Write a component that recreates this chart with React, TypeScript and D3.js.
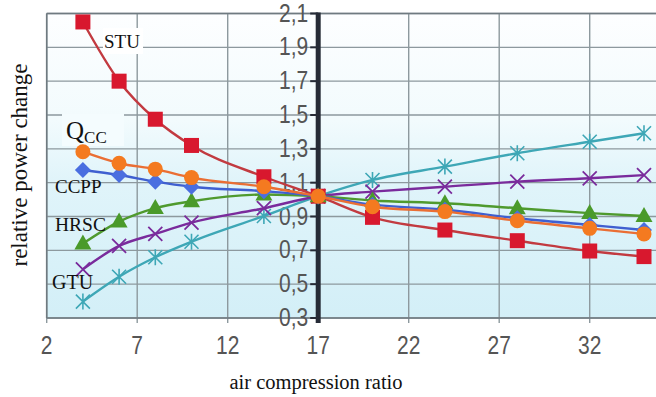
import React from "react";
import * as d3 from "d3";

const xTicks = [2, 7, 12, 17, 22, 27, 32, 37];
const yTicks = [0.3, 0.5, 0.7, 0.9, 1.1, 1.3, 1.5, 1.7, 1.9, 2.1];
const xVals = [4, 6, 8, 10, 14, 17, 20, 24, 28, 32, 35];

const stu = [2.05, 1.7, 1.475, 1.32, 1.135, 1.02, 0.895, 0.82, 0.757, 0.696, 0.663];
const qcc = [1.283, 1.215, 1.18, 1.13, 1.076, 1.02, 0.958, 0.929, 0.875, 0.83, 0.797];
const ccpp = [1.175, 1.145, 1.106, 1.076, 1.05, 1.02, 0.97, 0.94, 0.89, 0.85, 0.82];
const hrsc = [0.74, 0.87, 0.95, 0.99, 1.03, 1.02, 0.995, 0.978, 0.949, 0.92, 0.903];
const purple = [0.588, 0.726, 0.797, 0.864, 0.949, 1.02, 1.047, 1.076, 1.106, 1.126, 1.145];
const gtu = [0.397, 0.544, 0.659, 0.751, 0.903, 1.02, 1.116, 1.195, 1.274, 1.342, 1.392];

const W = 656;
const H = 397;

const x = d3.scaleLinear().domain([2, 37]).range([46.7, 680.2]);
const y = d3.scaleLinear().domain([0.3, 2.1]).range([318, 13.5]);

type Marker = "square" | "circle" | "diamond" | "triangle" | "x" | "star";

const series: { name: string; vals: number[]; line: string; fill: string; marker: Marker }[] = [
  { name: "GTU", vals: gtu, line: "#3ea7b6", fill: "#3ea7b6", marker: "star" },
  { name: "purple", vals: purple, line: "#7a2b9c", fill: "#7a2b9c", marker: "x" },
  { name: "STU", vals: stu, line: "#c23a40", fill: "#d8182e", marker: "square" },
  { name: "HRSC", vals: hrsc, line: "#4f9a2e", fill: "#4a9a2a", marker: "triangle" },
  { name: "CCPP", vals: ccpp, line: "#3f5fd0", fill: "#4a6ee0", marker: "diamond" },
  { name: "Qcc", vals: qcc, line: "#ea6e34", fill: "#f47a20", marker: "circle" },
];

function MarkerShape({ kind, cx, cy, fill }: { kind: Marker; cx: number; cy: number; fill: string }) {
  switch (kind) {
    case "square":
      return <rect x={cx - 7.5} y={cy - 7.5} width={15} height={15} fill={fill} />;
    case "circle":
      return <circle cx={cx} cy={cy} r={7.5} fill={fill} />;
    case "diamond":
      return <path d={`M${cx},${cy - 8}L${cx + 8},${cy}L${cx},${cy + 8}L${cx - 8},${cy}Z`} fill={fill} />;
    case "triangle":
      return <path d={`M${cx},${cy - 9}L${cx + 8.5},${cy + 6}L${cx - 8.5},${cy + 6}Z`} fill={fill} />;
    case "x":
      return (
        <path
          d={`M${cx - 7},${cy - 7}L${cx + 7},${cy + 7}M${cx + 7},${cy - 7}L${cx - 7},${cy + 7}`}
          stroke={fill}
          strokeWidth={1.8}
        />
      );
    case "star":
      return (
        <path
          d={`M${cx - 7},${cy - 7}L${cx + 7},${cy + 7}M${cx + 7},${cy - 7}L${cx - 7},${cy + 7}M${cx},${cy - 8}L${cx},${cy + 8}`}
          stroke={fill}
          strokeWidth={1.6}
        />
      );
  }
  return null;
}

export default function App() {
  const line = d3
    .line<number>()
    .x((_, i) => x(xVals[i]))
    .y((d) => y(d))
    .curve(d3.curveMonotoneX);

  const left = x(2);
  const top = y(2.1);
  const bottom = y(0.3);
  const axisX = x(17);
  const serif = "'Liberation Serif', 'DejaVu Serif', serif";
  const sans = "'Liberation Sans', Arial, sans-serif";

  return (
    <svg
      width={W}
      height={H}
      style={{ position: "absolute", left: 0, top: 0, background: "#ffffff" }}
    >
      <defs>
        <linearGradient id="bg" x1="0" y1="0" x2="0" y2="1">
          <stop offset="0%" stopColor="#fdfeff" />
          <stop offset="35%" stopColor="#f2fbfd" />
          <stop offset="55%" stopColor="#e0f4fa" />
          <stop offset="100%" stopColor="#d3eff7" />
        </linearGradient>
        <clipPath id="plot">
          <rect x={left} y={top - 10} width={W - left} height={bottom - top + 20} />
        </clipPath>
      </defs>

      <rect x={left} y={top} width={W - left} height={bottom - top} fill="url(#bg)" />

      {/* grid */}
      {yTicks.map((t) => (
        <line key={"gy" + t} x1={left} x2={W} y1={y(t)} y2={y(t)} stroke="#8d999e" strokeWidth={1.4} />
      ))}
      {xTicks.map((t) => (
        <line key={"gx" + t} x1={x(t)} x2={x(t)} y1={top} y2={bottom + 5} stroke="#8d999e" strokeWidth={1.4} />
      ))}
      <line x1={left} x2={W} y1={top} y2={top} stroke="#6f7a80" strokeWidth={1.6} />
      <line x1={left} x2={left} y1={top} y2={bottom} stroke="#6f7a80" strokeWidth={1.6} />
      <line x1={left} x2={W} y1={bottom} y2={bottom} stroke="#6f7a80" strokeWidth={1.6} />

      {/* label patches */}
      <rect x={103} y={28} width={40} height={26} fill="#ffffff" />
      <rect x={62} y={114} width={62} height={32} fill="#f4fcfe" />

      {/* y axis at 17 */}
      <line x1={axisX} x2={axisX} y1={top - 1} y2={bottom + 5} stroke="#262b36" strokeWidth={5} />
      {yTicks.map((t) => (
        <g key={"yt" + t}>
          <line x1={axisX - 8} x2={axisX} y1={y(t)} y2={y(t)} stroke="#262b36" strokeWidth={2} />
          <text
            transform={`translate(${axisX - 10},${y(t) + 8}) scale(1,1.22)`}
            textAnchor="end"
            fontFamily={sans}
            fontSize={21}
            fill="#555"
          >
            {t.toFixed(1).replace(".", ",")}
          </text>
        </g>
      ))}

      {/* x tick labels */}
      {xTicks
        .filter((t) => x(t) < W)
        .map((t) => (
          <text
            key={"xt" + t}
            transform={`translate(${x(t)},${354}) scale(1,1.22)`}
            textAnchor="middle"
            fontFamily={sans}
            fontSize={21}
            fill="#555"
          >
            {t}
          </text>
        ))}

      {/* series */}
      <g clipPath="url(#plot)">
        {series.map((s) => (
          <g key={s.name}>
            <path d={line(s.vals) || ""} fill="none" stroke={s.line} strokeWidth={2.4} />
            {s.vals.map((v, i) => (
              <MarkerShape key={i} kind={s.marker} cx={x(xVals[i])} cy={y(v)} fill={s.fill} />
            ))}
          </g>
        ))}
      </g>

      {/* series labels */}
      <text x={104} y={48} fontFamily={serif} fontSize={19} fill="#111">
        STU
      </text>
      <text x={66} y={139} fontFamily={serif} fontSize={25} fill="#111">
        Q
        <tspan fontSize={17} dy={4}>
          CC
        </tspan>
      </text>
      <text x={55} y={193} fontFamily={serif} fontSize={19} fill="#111">
        CCPP
      </text>
      <text x={55} y={231} fontFamily={serif} fontSize={19.5} fill="#111">
        HRSC
      </text>
      <text x={52} y={289} fontFamily={serif} fontSize={20} fill="#111">
        GTU
      </text>

      {/* axis titles */}
      <text
        transform={`translate(27,165) rotate(-90)`}
        textAnchor="middle"
        fontFamily={serif}
        fontSize={23}
        fill="#111"
      >
        relative power change
      </text>
      <text x={316} y={389} textAnchor="middle" fontFamily={serif} fontSize={20.5} fill="#111">
        air compression ratio
      </text>
    </svg>
  );
}
